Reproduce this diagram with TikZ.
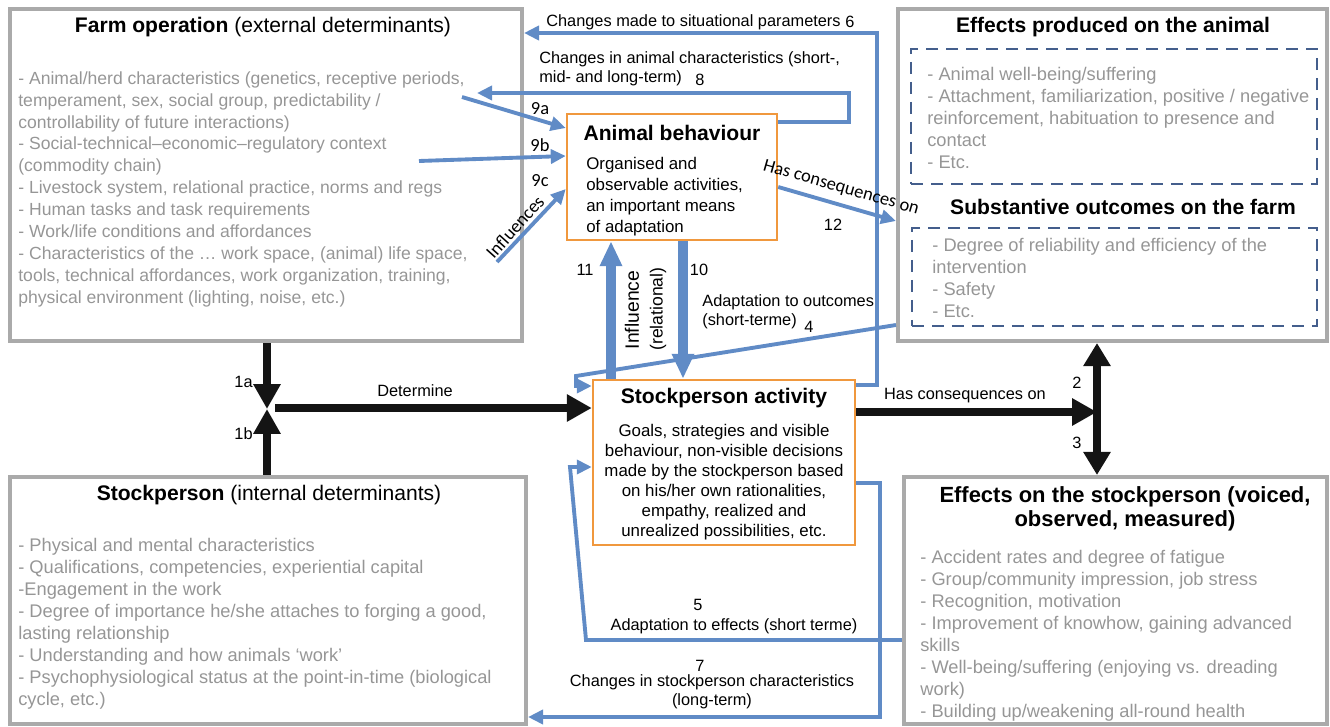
\documentclass[tikz,border=0pt]{standalone}
\usepackage{fontspec}
\setmainfont{Liberation Sans}
\newfontfamily\calib{Carlito}
\usetikzlibrary{arrows.meta,fit,positioning}
\definecolor{boxgray}{RGB}{170,170,170}
\definecolor{txtgray}{RGB}{150,150,150}
\definecolor{actorange}{RGB}{240,152,62}
\definecolor{arrblue}{RGB}{96,139,198}
\definecolor{dashblue}{RGB}{68,94,140}
\definecolor{arrblack}{RGB}{20,20,20}

\begin{document}
\begin{tikzpicture}[x=0.02cm,y=-0.02cm,
  graybox/.style={draw=boxgray,line width=2.3pt,inner sep=0pt},
  orangebox/.style={draw=actorange,line width=1.4pt,fill=white,inner sep=0pt},
  dashbox/.style={draw=dashblue,line width=1.6pt,dash pattern=on 0.24cm off 0.16cm,inner sep=0pt},
  title/.style={font=\fontsize{12}{13.6}\selectfont\bfseries,inner sep=0pt},
  items/.style={anchor=north west,align=left,text=txtgray,font=\fontsize{10.4}{12.5}\selectfont,inner sep=0pt},
  lbl/.style={font=\fontsize{9.3}{10.8}\selectfont,inner sep=0pt},
  cal/.style={font=\calib\fontsize{10.5}{12}\selectfont,inner sep=0pt},
  blk/.style={draw=arrblack,line width=5pt,-{Triangle[length=0.5cm,width=0.52cm]}},
  blu/.style={draw=arrblue,line width=2.2pt,-{Triangle[length=0.3cm,width=0.28cm]}},
  blufat/.style={draw=arrblue,line width=5.5pt,-{Triangle[length=0.5cm,width=0.42cm]}}]
\useasboundingbox (0,0) rectangle (1330,727);

% Outer boxes
\node[graybox,fit={(10,9) (522,341)}] (farm) {};
\node[graybox,fit={(898,9) (1327,341)}] (animeff) {};
\node[graybox,fit={(10,477) (526,724)}] (person) {};
\node[graybox,fit={(904,477) (1327,724)}] (personeff) {};
\node[dashbox,fit={(911,49) (1317,184)}] (animdash) {};
\node[dashbox,fit={(912,228) (1317,326)}] (farmdash) {};

% Farm operation
\node[title] (farmT) at (263,27) {Farm operation \textmd{(external determinants)}};
\node[items,font=\fontsize{10}{12.5}\selectfont] (farmL) at (18,71) {- Animal/herd characteristics (genetics, receptive periods,\\
temperament, sex, social group, predictability /\\
controllability of future interactions)\\
- Social-technical–economic–regulatory context\\
(commodity chain)\\
- Livestock system, relational practice, norms and regs\\
- Human tasks and task requirements\\
- Work/life conditions and affordances\\
- Characteristics of the … work space, (animal) life space,\\
tools, technical affordances, work organization, training,\\
physical environment (lighting, noise, etc.)};

% Effects on the animal / outcomes
\node[title] (animT) at (1113,27) {Effects produced on the animal};
\node[items] (animL) at (927,67) {- Animal well-being/suffering\\
- Attachment, familiarization, positive / negative\\
reinforcement, habituation to presence and\\
contact\\
- Etc.};
\node[title] (outT) at (1123,207) {Substantive outcomes on the farm};
\node[items] (outL) at (932,238) {- Degree of reliability and efficiency of the\\
intervention\\
- Safety\\
- Etc.};

% Stockperson
\node[title] (personT) at (269,495) {Stockperson \textmd{(internal determinants)}};
\node[items] (personL) at (18,538) {- Physical and mental characteristics\\
- Qualifications, competencies, experiential capital\\
-Engagement in the work\\
- Degree of importance he/she attaches to forging a good,\\
lasting relationship\\
- Understanding and how animals ‘work’\\
- Psychophysiological status at the point-in-time (biological\\
cycle, etc.)};

% Effects on the stockperson
\node[title,align=center,font=\fontsize{12.5}{13.8}\selectfont\bfseries] (peffT) at (1125,509) {Effects on the stockperson (voiced,\\observed, measured)};
\node[items] (peffL) at (920,550) {- Accident rates and degree of fatigue\\
- Group/community impression, job stress\\
- Recognition, motivation\\
- Improvement of knowhow, gaining advanced\\
skills\\
- Well-being/suffering (enjoying vs. dreading\\
work)\\
- Building up/weakening all-round health};

% Animal behaviour
\node[orangebox,fit={(567,114) (777,240)}] (behav) {};
\node[title] (behavT) at (672,133) {Animal behaviour};
\node[items,text=black,font=\fontsize{9.6}{11.9}\selectfont] (behavL) at (586,157) {Organised and\\observable activities,\\an important means\\of adaptation};

% Stockperson activity
\node[orangebox,fit={(593,380) (855,545)}] (activity) {};
\node[title] (actT) at (724,398) {Stockperson activity};
\node[lbl,align=center,font=\fontsize{9.6}{11.4}\selectfont] (actL) at (724,482) {Goals, strategies and visible\\behaviour, non-visible decisions\\made by the stockperson based\\on his/her own rationalities,\\empathy, realized and\\unrealized possibilities, etc.};

% Determine (1a, 1b)
\coordinate (j1) at (267,409);
\coordinate (d0) at (275,408);
\draw[blk] (farm.south -| j1) -- (j1);
\draw[blk] (person.north -| j1) -- (j1);
\draw[blk] (d0) -- (activity.west |- d0);
\node[lbl,anchor=east] (l1a) at (253,382) {1a};
\node[lbl,anchor=east] (l1b) at (253,434) {1b};
\node[lbl] (lDet) at (415,391) {Determine};

% Has consequences on (2, 3)
\coordinate (j2) at (1097,412);
\draw[blk] (activity.east |- j2) -- (j2);
\draw[blk,{Triangle[length=0.46cm,width=0.52cm]}-{Triangle[length=0.46cm,width=0.52cm]}] (animeff.south -| j2) -- (personeff.north -| j2);
\node[lbl] (lCons) at (965,396) {Has consequences on};
\node[lbl] (l2) at (1077,383) {2};
\node[lbl] (l3) at (1077,443) {3};

% 6
\coordinate (c6a) at (877,385);
\coordinate (c6b) at (877,33);
\draw[blu] (activity.east |- c6a) -- (c6a) -- (c6b) -- (farm.east |- c6b);
\node[lbl,anchor=west] (l6t) at (546,22) {Changes made to situational parameters};
\node[lbl] (l6) at (850,22) {6};

% 8
\coordinate (c8a) at (849,122);
\coordinate (c8b) at (849,93);
\coordinate (c8c) at (477,93);
\draw[blu] (behav.east |- c8a) -- (c8a) -- (c8b) -- (c8c);
\node[lbl,anchor=west,align=left] (l8t) at (539,69) {Changes in animal characteristics (short-,\\mid- and long-term)};
\node[lbl] (l8) at (700,80) {8};

% 9a, 9b, 9c
\coordinate (s9a) at (462,97);  \coordinate (t9a) at (567,128);
\coordinate (s9b) at (419,161); \coordinate (t9b) at (567,156);
\coordinate (s9c) at (497,262); \coordinate (t9c) at (567,189);
\draw[blu] (s9a) -- (behav.west |- t9a);
\draw[blu] (s9b) -- (behav.west |- t9b);
\draw[blu] (s9c) -- (behav.west |- t9c);
\node[cal] (l9a) at (540,109) {9a};
\node[cal] (l9b) at (540,145) {9b};
\node[cal] (l9c) at (540,181) {9c};
\node[cal,rotate=48] (lInf) at (515,227) {Influences};

% 12
\coordinate (s12) at (777,187);
\coordinate (t12) at (898,221);
\draw[blu] (behav.east |- s12) -- (animeff.west |- t12);
\node[cal,rotate=-16] (lCons2) at (841,188) {Has consequences on};
\node[lbl] (l12) at (833,225) {12};

% 10, 11
\coordinate (x11) at (611,300);
\coordinate (x10) at (683,300);
\draw[blufat] (activity.north -| x11) -- (behav.south -| x11);
\draw[blufat] (behav.south -| x10) -- (activity.north -| x10);
\node[lbl] (l11) at (585,270) {11};
\node[lbl] (l10) at (699,270) {10};
\node[lbl,font=\fontsize{11}{12}\selectfont,rotate=90] (lInfl) at (632,310) {Influence};
\node[lbl,font=\fontsize{10}{11}\selectfont,rotate=90] (lRel) at (658,309) {(relational)};

% 4
\coordinate (s4) at (898,325);
\coordinate (c4a) at (576,376);
\coordinate (c4b) at (576,386);
\draw[blu] (animeff.west |- s4) -- (c4a) -- (c4b) -- (activity.west |- c4b);
\node[lbl,anchor=west,align=left] (l4t) at (702,312) {Adaptation to outcomes\\(short-terme)};
\node[lbl] (l4) at (809,327) {4};

% 5
\coordinate (c5a) at (586,640);
\coordinate (c5b) at (570,467);
\draw[blu] (personeff.west |- c5a) -- (c5a) -- (c5b) -- (activity.west |- c5b);
\node[lbl] (l5) at (698,605) {5};
\node[lbl] (l5t) at (734,626) {Adaptation to effects (short terme)};

% 7
\coordinate (c7a) at (880,483);
\coordinate (c7b) at (880,717);
\draw[blu] (activity.east |- c7a) -- (c7a) -- (c7b) -- (person.east |- c7b);
\node[lbl] (l7) at (700,666) {7};
\node[lbl,align=center] (l7t) at (712,692) {Changes in stockperson characteristics\\(long-term)};
\end{tikzpicture}
\end{document}
